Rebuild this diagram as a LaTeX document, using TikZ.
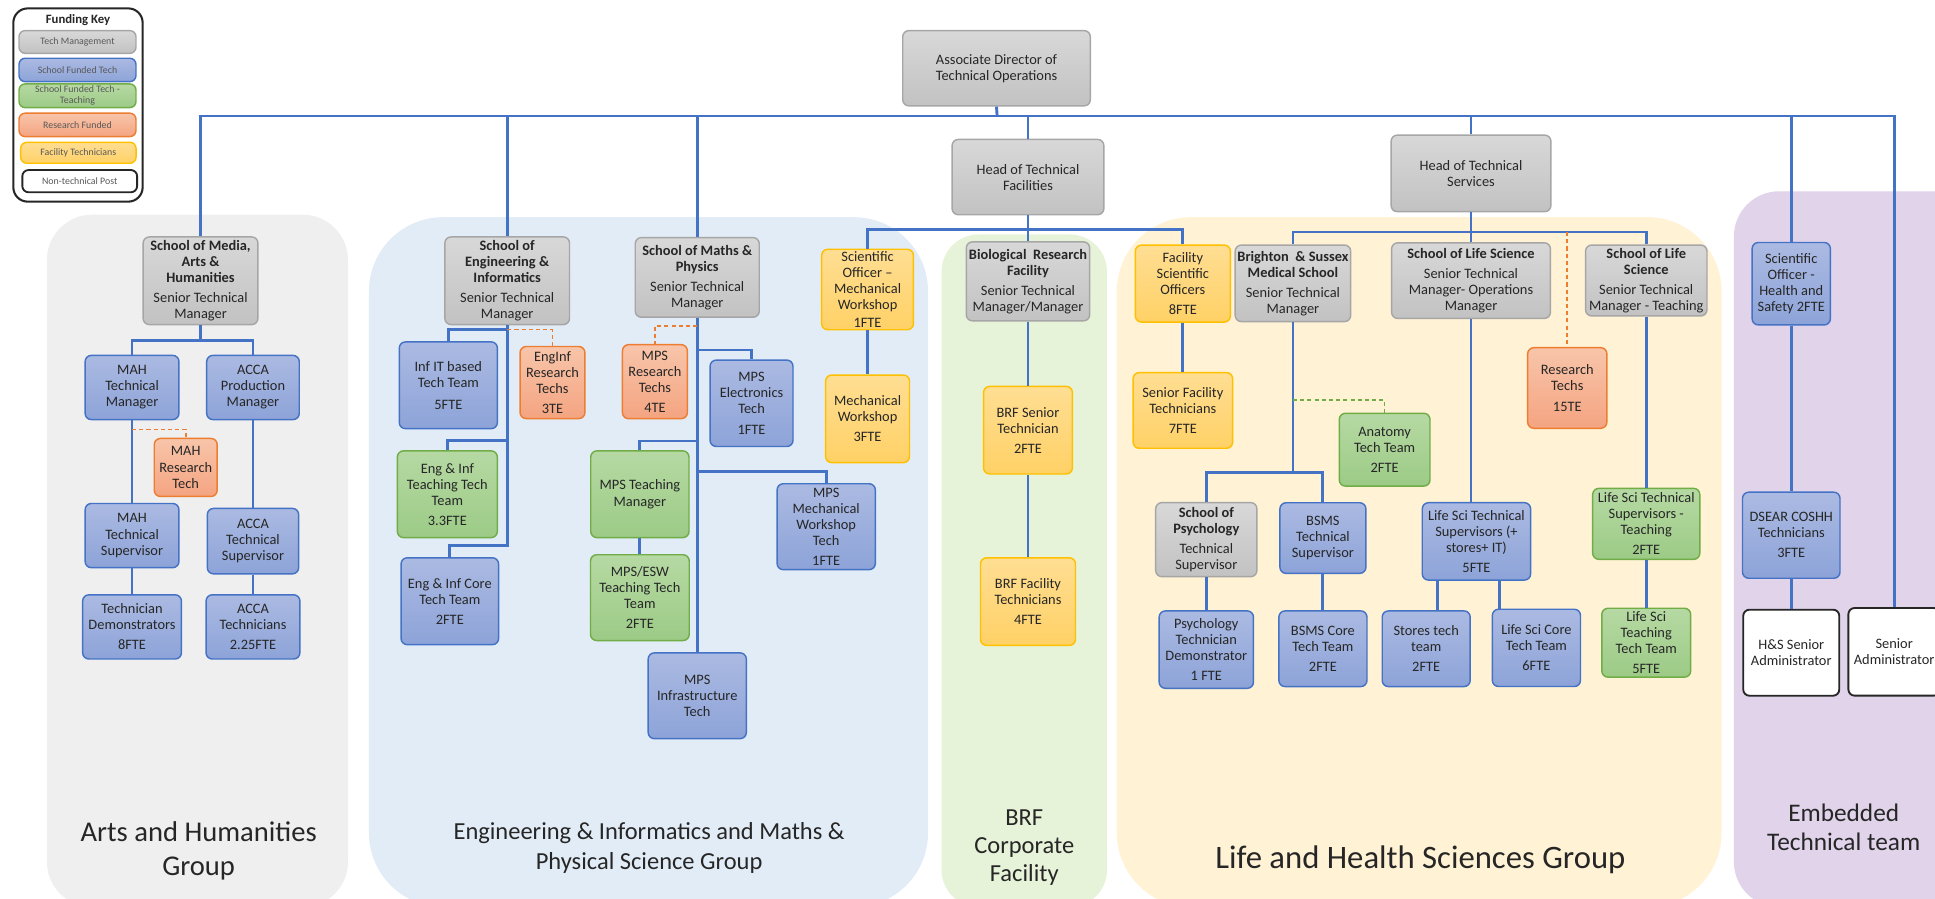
\documentclass[tikz,border=0pt]{standalone}
\usepackage{fontspec}
\setmainfont{Carlito}
\definecolor{Ink}{HTML}{262626}
\definecolor{KeyInk}{HTML}{595959}
\definecolor{Line}{HTML}{4472C4}
\definecolor{GreyTop}{HTML}{D8D8D8}
\definecolor{GreyBot}{HTML}{C2C2C2}
\definecolor{GreyLine}{HTML}{A6A6A6}
\definecolor{BlueTop}{HTML}{ABBAE2}
\definecolor{BlueBot}{HTML}{8DA3D8}
\definecolor{GreenTop}{HTML}{B6D9A3}
\definecolor{GreenBot}{HTML}{9CCB86}
\definecolor{GreenLine}{HTML}{70AD47}
\definecolor{OrangeTop}{HTML}{F8C5AA}
\definecolor{OrangeBot}{HTML}{F4A481}
\definecolor{OrangeLine}{HTML}{ED7D31}
\definecolor{YellowTop}{HTML}{FFDE93}
\definecolor{YellowBot}{HTML}{FFD166}
\definecolor{YellowLine}{HTML}{FFC000}
\definecolor{ArtsBg}{HTML}{EFEFEF}
\definecolor{EngBg}{HTML}{E2ECF6}
\definecolor{BrfBg}{HTML}{E6F3D8}
\definecolor{LifeBg}{HTML}{FFF2D5}
\definecolor{EmbBg}{HTML}{E0D3EA}

\begin{document}
\begin{tikzpicture}[x=0.6pt, y=-0.6pt, every node/.style={font=\fontsize{7}{7.8}\selectfont, text=Ink}]
        \tikzstyle{box}=[draw, rounded corners=3pt, align=center, inner sep=1pt, line width=0.7pt]
        \tikzstyle{mgmt}=[box, draw=GreyLine, top color=GreyTop, bottom color=GreyBot]
        \tikzstyle{school}=[box, draw=Line, top color=BlueTop, bottom color=BlueBot]
        \tikzstyle{teach}=[box, draw=GreenLine, top color=GreenTop, bottom color=GreenBot]
        \tikzstyle{research}=[box, draw=OrangeLine, top color=OrangeTop, bottom color=OrangeBot]
        \tikzstyle{facility}=[box, draw=YellowLine, top color=YellowTop, bottom color=YellowBot]
        \tikzstyle{admin}=[box, draw=Ink, fill=white, line width=0.9pt]
        \tikzstyle{keyitem}=[font=\fontsize{4.8}{5.2}\selectfont, text=KeyInk]
        \tikzstyle{link}=[draw=Line, line width=1.4pt]
        \tikzstyle{rlink}=[draw=OrangeLine, line width=0.8pt, dash pattern=on 2pt off 1.5pt]
        \tikzstyle{glink}=[draw=GreenLine, line width=0.8pt, dash pattern=on 2pt off 1.5pt]
        \tikzstyle{grouplabel}=[align=center, text=Ink]
        \tikzset{wh/.style 2 args={minimum width=0.6*#1pt, minimum height=0.6*#2pt}}

        \useasboundingbox (0,0) rectangle (1568,728);
        \clip (0,0) rectangle (1568,728);

        % group backgrounds
        \fill[ArtsBg, rounded corners=22pt] (38,174) rectangle (282,735);
        \fill[EngBg, rounded corners=36pt] (299,176) rectangle (752,735);
        \fill[BrfBg, rounded corners=18pt] (763,190) rectangle (897,735);
        \fill[LifeBg, rounded corners=36pt] (905,176) rectangle (1395,735);
        \fill[EmbBg, rounded corners=22pt] (1405,155) rectangle (1610,735);

        % funding key
        \node[draw=Ink, line width=1pt, rounded corners=7pt, wh={104.8}{156.6}] (key) at (63.2,85.1) {};
        \node[font=\fontsize{6.2}{7}\selectfont\bfseries] (kt) at (63.2,16.2) {Funding Key};
        \node[mgmt, keyitem, wh={94.8}{18.4}] (k1) at (62.8,34) {Tech Management};
        \node[school, keyitem, wh={94.8}{19}] (k2) at (62.8,56.7) {School Funded Tech};
        \node[teach, keyitem, wh={94.8}{19.2}] (k3) at (62.8,77.6) {School Funded Tech -\\Teaching};
        \node[research, keyitem, wh={94.8}{19}] (k4) at (62.8,101.2) {Research Funded};
        \node[facility, keyitem, wh={93.5}{17}] (k5) at (63.5,123.8) {Facility Technicians};
        \node[admin, keyitem, wh={93}{18}] (k6) at (64.6,146.8) {Non-technical Post};

        % top management
        \node[mgmt, wh={152}{61}] (ad) at (807.5,55.3) {Associate Director of\\Technical Operations};
        \node[mgmt, wh={123}{61}] (htf) at (833,143.5) {Head of Technical\\Facilities};
        \node[mgmt, wh={129.5}{62}] (hts) at (1192,140.5) {Head of Technical\\Services};

        % arts and humanities
        \node[mgmt, wh={93}{71}] (mahs) at (162.5,227.5) {\textbf{School of Media,}\\\textbf{Arts \&}\\\textbf{Humanities}\\[2pt]Senior Technical\\Manager};
        \node[school, wh={76}{52}] (mahtm) at (107,314) {MAH\\Technical\\Manager};
        \node[school, wh={75}{52}] (accapm) at (205,314) {ACCA\\Production\\Manager};
        \node[research, wh={51}{47}] (mahrt) at (150.5,378.8) {MAH\\Research\\Tech};
        \node[school, wh={76}{52}] (mahts) at (107,434) {MAH\\Technical\\Supervisor};
        \node[school, wh={74}{53}] (accats) at (205,438.5) {ACCA\\Technical\\Supervisor};
        \node[school, wh={80}{52}] (mahtd) at (107,508) {Technician\\Demonstrators\\[2pt]8FTE};
        \node[school, wh={76}{52}] (accat) at (205,508) {ACCA\\Technicians\\[2pt]2.25FTE};

        % engineering and informatics
        \node[mgmt, wh={101}{71}] (eng) at (411,227.5) {\textbf{School of}\\\textbf{Engineering \&}\\\textbf{Informatics}\\[2pt]Senior Technical\\Manager};
        \node[school, wh={79.5}{70.3}] (infit) at (363.3,312.2) {Inf IT based\\Tech Team\\[3pt]5FTE};
        \node[research, wh={52.6}{58.4}] (engres) at (447.7,310) {EngInf\\Research\\Techs\\[2pt]3TE};
        \node[teach, wh={81}{70.3}] (engteach) at (362.5,400.5) {Eng \& Inf\\Teaching Tech\\Team\\[2pt]3.3FTE};
        \node[school, wh={79}{70.4}] (engcore) at (364.5,487.2) {Eng \& Inf Core\\Tech Team\\[2pt]2FTE};

        % maths and physics
        \node[mgmt, wh={100.5}{64.5}] (mps) at (565,224.8) {\textbf{School of Maths \&}\\\textbf{Physics}\\[2pt]Senior Technical\\Manager};
        \node[research, wh={52.6}{60}] (mpsres) at (530.7,309.3) {MPS\\Research\\Techs\\[2pt]4TE};
        \node[school, wh={67.2}{70}] (mpsel) at (609,326.8) {MPS\\Electronics\\Tech\\[2pt]1FTE};
        \node[teach, wh={79.6}{70.3}] (mpstm) at (518.5,400.5) {MPS Teaching\\Manager};
        \node[teach, wh={80}{69.5}] (mpsesw) at (518.5,484.3) {MPS/ESW\\Teaching Tech\\Team\\[2pt]2FTE};
        \node[school, wh={79.6}{69.6}] (mpsmw) at (669.5,426.8) {MPS\\Mechanical\\Workshop\\Tech\\[2pt]1FTE};
        \node[school, wh={79.5}{69.5}] (mpsinf) at (565,563.8) {MPS\\Infrastructure\\Tech};
        \node[facility, wh={74.4}{65.2}] (scimw) at (703,234.6) {Scientific\\Officer --\\Mechanical\\Workshop\\[1pt]1FTE};
        \node[facility, wh={68}{71}] (mechws) at (703,339.4) {Mechanical\\Workshop\\[2pt]3FTE};

        % biological research facility
        \node[mgmt, wh={100}{64}] (brf) at (833,228) {\textbf{Biological\ \ Research}\\\textbf{Facility}\\[2pt]Senior Technical\\Manager/Manager};
        \node[facility, wh={72}{71}] (brfst) at (833,348.6) {BRF Senior\\Technician\\[2pt]2FTE};
        \node[facility, wh={77}{71}] (brfft) at (833,487.5) {BRF Facility\\Technicians\\[2pt]4FTE};

        % life and health sciences
        \node[facility, wh={77}{62.4}] (fso) at (958.5,229.8) {Facility\\Scientific\\Officers\\[2pt]8FTE};
        \node[facility, wh={80.7}{61.3}] (sft) at (958.5,332.6) {Senior Facility\\Technicians\\[2pt]7FTE};
        \node[mgmt, wh={93.6}{62}] (bsms) at (1047.7,229.6) {\textbf{Brighton\ \ \& Sussex}\\\textbf{Medical School}\\[2pt]Senior Technical\\Manager};
        \node[mgmt, wh={128.7}{61.3}] (slsops) at (1192,227.4) {\textbf{School of Life Science}\\[2pt]Senior Technical\\Manager-\ Operations\\Manager};
        \node[mgmt, wh={98.4}{57.4}] (slst) at (1334,227.3) {\textbf{School of Life}\\\textbf{Science}\\[2pt]Senior Technical\\Manager\ - Teaching};
        \node[research, wh={64.2}{65.3}] (rt) at (1270,314.4) {Research\\Techs\\[2pt]15TE};
        \node[teach, wh={73.5}{59}] (anat) at (1122,364.4) {Anatomy\\Tech Team\\[2pt]2FTE};
        \node[mgmt, wh={82}{60}] (psy) at (977.5,437.3) {\textbf{School of}\\\textbf{Psychology}\\[2pt]Technical\\Supervisor};
        \node[school, wh={69.7}{57.2}] (bsmsts) at (1072,436) {BSMS\\Technical\\Supervisor};
        \node[school, wh={76.4}{62.7}] (psytd) at (977.5,526.4) {Psychology\\Technician\\Demonstrator\\[2pt]1 FTE};
        \node[school, wh={71.4}{61.3}] (bsmsc) at (1072,525.7) {BSMS Core\\Tech Team\\[2pt]2FTE};
        \node[school, wh={87.8}{62.7}] (lsts) at (1196.4,438.7) {Life Sci Technical\\Supervisors (+\\stores+ IT)\\[2pt]5FTE};
        \node[school, wh={71.3}{61.3}] (stores) at (1155.7,525.7) {Stores tech\\team\\[2pt]2FTE};
        \node[school, wh={71.4}{62.6}] (lscore) at (1245,525) {Life Sci Core\\Tech Team\\[2pt]6FTE};
        \node[teach, wh={86.8}{57.5}] (lstst) at (1334,424.5) {Life Sci Technical\\Supervisors -\\Teaching\\[2pt]2FTE};
        \node[teach, wh={72}{55.8}] (lsttt) at (1334,520.8) {Life Sci\\Teaching\\Tech Team\\[2pt]5FTE};

        % embedded team
        \node[school, wh={63.4}{66.8}] (sohs) at (1451.5,229.9) {Scientific\\Officer -\\Health and\\Safety 2FTE};
        \node[school, wh={79}{69.7}] (dsear) at (1451.5,433.7) {DSEAR COSHH\\Technicians\\[2pt]3FTE};
        \node[admin, wh={77.8}{69.7}] (hsadmin) at (1451.5,528.9) {H\&S Senior\\Administrator};
        \node[admin, wh={74.2}{71}] (sadmin) at (1534.9,528.2) {Senior\\Administrator};

        % group titles
        \node[grouplabel, font=\fontsize{13.9}{17}\selectfont] (gah) at (161,689.5) {Arts and Humanities\\Group};
        \node[grouplabel, font=\fontsize{11.9}{14.5}\selectfont] (gem) at (526,687) {Engineering \& Informatics and Maths \&\\Physical Science Group};
        \node[grouplabel, font=\fontsize{11.9}{13.5}\selectfont] (gbrf) at (830,687) {BRF\\Corporate\\Facility};
        \node[grouplabel, font=\fontsize{15.9}{18}\selectfont] (glh) at (1151,697) {Life and Health Sciences Group};
        \node[grouplabel, font=\fontsize{12.3}{14}\selectfont] (gemb) at (1494,670.5) {Embedded\\Technical team};

        % top bus
        \coordinate (bus) at (808,94);
        \draw[link] (mahs.north) |- (bus) -| (sadmin.north);
        \draw[link] (ad.south) -- (bus);
        \draw[link] (eng.north) -- (eng.north |- bus);
        \draw[link] (mps.north) -- (mps.north |- bus);
        \draw[link] (htf.north) -- (htf.north |- bus);
        \draw[link] (hts.north) -- (hts.north |- bus);
        \draw[link] (sohs.north) -- (sohs.north |- bus);

        % arts links
        \coordinate (a1) at (162.5,275.6);
        \coordinate (a2) at (107,348);
        \draw[link] (mahs.south) -- (a1);
        \draw[link] (mahtm.north) |- (a1) -| (accapm.north);
        \draw[link] (mahtm.south) -- (mahts.north);
        \draw[link] (mahts.south) -- (mahtd.north);
        \draw[link] (accapm.south) -- (accats.north);
        \draw[link] (accats.south) -- (accat.north);
        \draw[rlink] (a2) -| (mahrt.north);

        % engineering links
        \coordinate (e1) at (411,267);
        \coordinate (e2) at (411,357);
        \coordinate (e3) at (411,442);
        \draw[link] (eng.south) -- (e3) -| (engcore.north);
        \draw[link] (e1) -| (infit.north);
        \draw[link] (e2) -| (engteach.north);
        \draw[rlink] (e1) -| (engres.north);

        % maths links
        \coordinate (m1) at (565,264);
        \coordinate (m2) at (565,283.6);
        \coordinate (m3) at (565,357.4);
        \coordinate (m4) at (565,382);
        \draw[link] (mps.south) -- (mpsinf.north);
        \draw[rlink] (m1) -| (mpsres.north);
        \draw[link] (m2) -| (mpsel.north);
        \draw[link] (m3) -| (mpstm.north);
        \draw[link] (m4) -| (mpsmw.north);
        \draw[link] (mpstm.south) -- (mpsesw.north);

        % facilities links
        \coordinate (f1) at (833,186);
        \draw[link] (htf.south) -- (brf.north);
        \draw[link] (scimw.north) |- (f1) -| (fso.north);
        \draw[link] (scimw.south) -- (mechws.north);
        \draw[link] (brf.south) -- (brfst.north);
        \draw[link] (brfst.south) -- (brfft.north);
        \draw[link] (fso.south) -- (sft.north);

        % services links
        \coordinate (h1) at (1192,188);
        \coordinate (h2) at (1270,188);
        \draw[link] (hts.south) -- (slsops.north);
        \draw[link] (bsms.north) |- (h1) -| (slst.north);
        \draw[rlink] (h2) -- (rt.north);
        \coordinate (b1) at (1047.7,383);
        \coordinate (b2) at (1047.7,324);
        \draw[link] (bsms.south) -- (b1);
        \draw[link] (psy.north) |- (b1) -| (bsmsts.north);
        \draw[glink] (b2) -| (anat.north);
        \draw[link] (psy.south) -- (psytd.north);
        \draw[link] (bsmsts.south) -- (bsmsc.north);
        \draw[link] (slsops.south) -- (slsops.south |- lsts.north);
        \coordinate (s1) at (1165,0);
        \coordinate (s2) at (1215,0);
        \draw[link] (s1 |- lsts.south) -- (s1 |- stores.north);
        \draw[link] (s2 |- lsts.south) -- (s2 |- lscore.north);
        \draw[link] (slst.south) -- (lstst.north);
        \draw[link] (lstst.south) -- (lsttt.north);

        % embedded links
        \draw[link] (sohs.south) -- (dsear.north);
        \draw[link] (dsear.south) -- (hsadmin.north);
      \end{tikzpicture}
\end{document}
